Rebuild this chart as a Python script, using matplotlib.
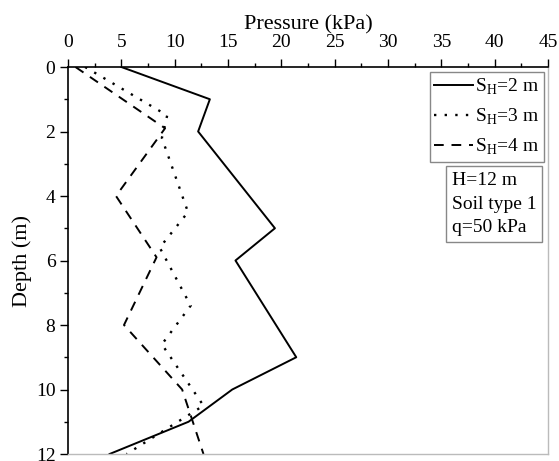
import matplotlib
matplotlib.use("Agg")
import matplotlib.pyplot as plt
from matplotlib.ticker import MultipleLocator

plt.rcParams['font.family'] = ['Liberation Serif', 'DejaVu Serif']
plt.rcParams['mathtext.fontset'] = 'custom'
plt.rcParams['mathtext.rm'] = 'Liberation Serif'

# pressure (kPa) vs depth (m)
depth_2m = [0, 1, 2, 5, 6, 9, 10, 11, 12]
press_2m = [5.0, 13.3, 12.2, 19.4, 15.7, 21.4, 15.4, 11.3, 3.9]

depth_3m = [0, 1.5, 2.2, 4.5, 5.6, 7.4, 8.6, 10.5, 12]
press_3m = [1.6, 9.3, 8.8, 11.25, 8.6, 11.5, 8.8, 12.7, 5.5]

depth_4m = [0, 1.9, 4, 5.9, 8, 10, 12]
press_4m = [0.7, 9.1, 4.5, 8.3, 5.25, 10.7, 12.7]

labels = [r'S$_\mathrm{H}$=2 m', r'S$_\mathrm{H}$=3 m', r'S$_\mathrm{H}$=4 m']

fig = plt.figure(figsize=(5.59, 4.61), dpi=100)
ax = fig.add_axes([68 / 559, 7 / 461, 480 / 559, 387 / 461])

ax.plot(press_2m, depth_2m, color='black', lw=1.4, ls='-', label=labels[0])
ax.plot(press_3m, depth_3m, color='black', lw=1.7, ls=(0, (1, 3.5)), label=labels[1])
ax.plot(press_4m, depth_4m, color='black', lw=1.4, ls=(0, (5, 4)), label=labels[2])

ax.set_xlim(0, 45)
ax.set_ylim(12, 0)

ax.xaxis.tick_top()
ax.xaxis.set_label_position('top')
ax.set_xlabel('Pressure (kPa)', fontsize=16, labelpad=3.5)
ax.set_ylabel('Depth (m)', fontsize=16, labelpad=3)

ax.xaxis.set_major_locator(MultipleLocator(5))
ax.xaxis.set_minor_locator(MultipleLocator(2.5))
ax.yaxis.set_major_locator(MultipleLocator(2))
ax.yaxis.set_minor_locator(MultipleLocator(1))
ax.tick_params(which='major', length=6, width=1, labelsize=14, direction='out')
ax.tick_params(which='minor', length=3, width=1, direction='out')
ax.tick_params(axis='x', which='major', pad=5.5)
ax.tick_params(axis='y', which='major', pad=3)
ax.tick_params(axis='x', which='both', top=True, bottom=False)
ax.tick_params(axis='y', which='both', left=True, right=False)

ax.spines['top'].set_linewidth(1.2)
ax.spines['left'].set_linewidth(1.2)
for s in ['right', 'bottom']:
    ax.spines[s].set_color('#bbbbbb')
    ax.spines[s].set_linewidth(1.0)

leg = ax.legend(loc='upper right', bbox_to_anchor=(0.992, 0.987), fontsize=14,
                handlelength=2.0, handletextpad=0.1, borderpad=0.25,
                labelspacing=0.5, fancybox=False, framealpha=1,
                borderaxespad=0.0)
leg.get_frame().set_edgecolor('#888888')
leg.get_frame().set_linewidth(1.0)

ax.text(0.8, 0.728, 'H=12 m\nSoil type 1\nq=50 kPa', transform=ax.transAxes,
        ha='left', va='top', fontsize=14, linespacing=1.5,
        bbox=dict(boxstyle='square,pad=0.3', fc='white', ec='#888888', lw=1.0))

fig.savefig('out.png', dpi=100)
